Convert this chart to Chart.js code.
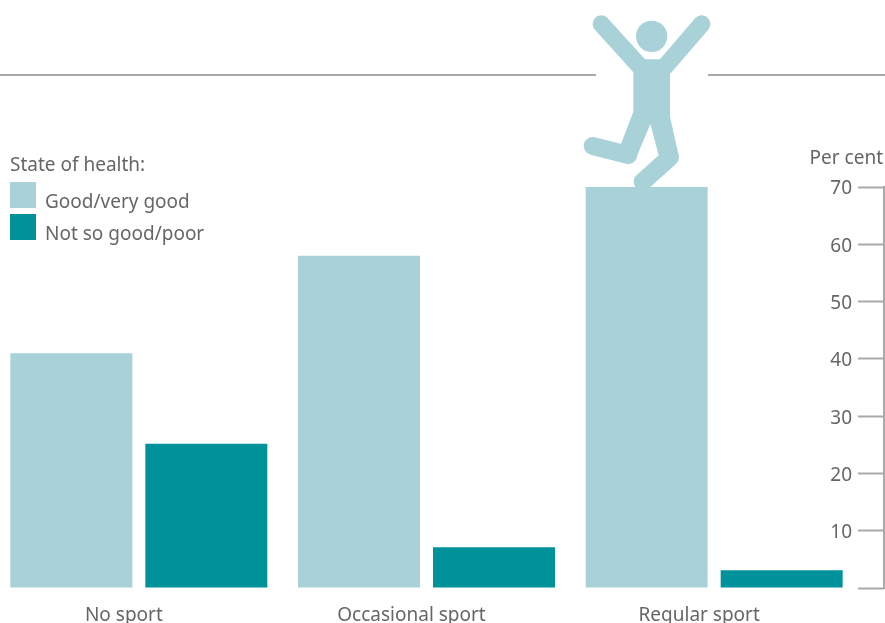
<!DOCTYPE html>
<html>
<head>
<meta charset="utf-8">
<title>State of health and sport</title>
<script src="https://cdn.jsdelivr.net/npm/chart.js@4/dist/chart.umd.min.js"></script>
<style>
    html, body { margin: 0; padding: 0; background: #fff; overflow: hidden; }
    /* the first bar group sits closer to the page edge than a full category allows */
    canvas { display: block; margin-left: -5px; }
</style>
</head>
<body>
<canvas id="healthChart" width="891" height="623"></canvas>
<script>
const categories = ["No sport", "Occasional sport", "Regular sport"];
const goodHealth = [41, 58, 70];
const poorHealth = [25.2, 7.1, 3.1];
const seriesNames = ["Good/very good", "Not so good/poor"];
const legendTitle = "State of health:";
const unitLabel = "Per cent";

const LIGHT = "#a8d2d8";
const DARK = "#00929b";
const TEXT = "#666666";
const RULE = "#a9a9a9";
const FONT = '"Noto Sans", sans-serif';

// Rule, jumping figure, legend and unit label: the parts Chart.js has no element for
const scenery = {
    id: "scenery",
    afterDraw(chart) {
        const ctx = chart.ctx;
        ctx.save();
        ctx.translate(5, 0);

        ctx.fillStyle = RULE;
        ctx.fillRect(0, 74, 596, 2);
        ctx.fillRect(708, 74, 177, 2);

        // figure, coordinates taken from a 3x crop starting at x=570
        ctx.save();
        ctx.translate(570, 0);
        ctx.scale(1 / 3, 1 / 3);
        ctx.fillStyle = LIGHT;
        ctx.strokeStyle = LIGHT;
        ctx.lineCap = "round";
        ctx.lineJoin = "round";

        ctx.beginPath();
        ctx.arc(245, 109, 47, 0, Math.PI * 2);
        ctx.fill();

        ctx.beginPath();
        ctx.moveTo(190, 218);
        ctx.lineTo(217, 178);
        ctx.lineTo(272, 178);
        ctx.lineTo(300, 218);
        ctx.lineTo(300, 350);
        ctx.lineTo(327, 470);
        ctx.lineTo(266, 466);
        ctx.lineTo(241, 372);
        ctx.lineTo(200, 470);
        ctx.lineTo(153, 432);
        ctx.lineTo(190, 335);
        ctx.closePath();
        ctx.fill();

        const limbs = [
            [[94, 72], [210, 200], 52],
            [[395, 72], [285, 200], 52],
            [[175, 465], [68, 438], 54],
            [[300, 472], [218, 545], 54]
        ];
        limbs.forEach(([a, b, w]) => {
            ctx.lineWidth = w;
            ctx.beginPath();
            ctx.moveTo(a[0], a[1]);
            ctx.lineTo(b[0], b[1]);
            ctx.stroke();
        });
        ctx.restore();

        // legend
        ctx.font = "19px " + FONT;
        ctx.textBaseline = "middle";
        ctx.textAlign = "left";
        ctx.fillStyle = TEXT;
        ctx.fillText(legendTitle, 10, 166);
        ctx.fillStyle = LIGHT;
        ctx.fillRect(10, 182, 26, 26);
        ctx.fillStyle = DARK;
        ctx.fillRect(10, 214, 26, 26);
        ctx.fillStyle = TEXT;
        ctx.fillText(seriesNames[0], 45, 203);
        ctx.fillText(seriesNames[1], 45, 235);

        ctx.textAlign = "right";
        ctx.fillText(unitLabel, 883, 159);

        ctx.restore();
    }
};

new Chart(document.getElementById("healthChart").getContext("2d"), {
    type: "bar",
    data: {
        labels: categories,
        datasets: [
            { label: seriesNames[0], data: goodHealth, backgroundColor: LIGHT, yAxisID: "y" },
            { label: seriesNames[1], data: poorHealth, backgroundColor: DARK, yAxisID: "y" }
        ]
    },
    options: {
        responsive: false,
        animation: false,
        events: [],
        categoryPercentage: 0.9386,
        barPercentage: 0.9037,
        layout: { padding: { left: 0, top: 187, right: 0, bottom: 0 } },
        plugins: { legend: { display: false }, tooltip: { enabled: false } },
        scales: {
            x: {
                grid: { display: false },
                border: { display: false },
                afterFit: (scale) => { scale.height = 35; },
                ticks: {
                    color: TEXT,
                    font: { family: FONT, size: 19 },
                    labelOffset: -15,
                    padding: 8,
                    maxRotation: 0,
                    autoSkip: false
                }
            },
            y: {
                position: "right",
                min: 0,
                max: 70,
                afterFit: (scale) => { scale.width = 26; },
                grid: {
                    drawOnChartArea: false,
                    drawTicks: true,
                    tickLength: 26,
                    color: RULE,
                    tickWidth: 2
                },
                border: { display: false },
                ticks: {
                    stepSize: 10,
                    mirror: true,
                    padding: -6,
                    labelOffset: 2,
                    color: TEXT,
                    font: { family: FONT, size: 19 },
                    callback: (v) => (v === 0 ? "" : v)
                }
            },
            // only carries the vertical line on the far right
            yLine: {
                position: "right",
                min: 0,
                max: 70,
                afterFit: (scale) => { scale.width = 2; },
                grid: { display: false },
                border: { display: true, color: RULE, width: 2 },
                ticks: { display: false }
            }
        }
    },
    plugins: [scenery]
});
</script>
</body>
</html>
